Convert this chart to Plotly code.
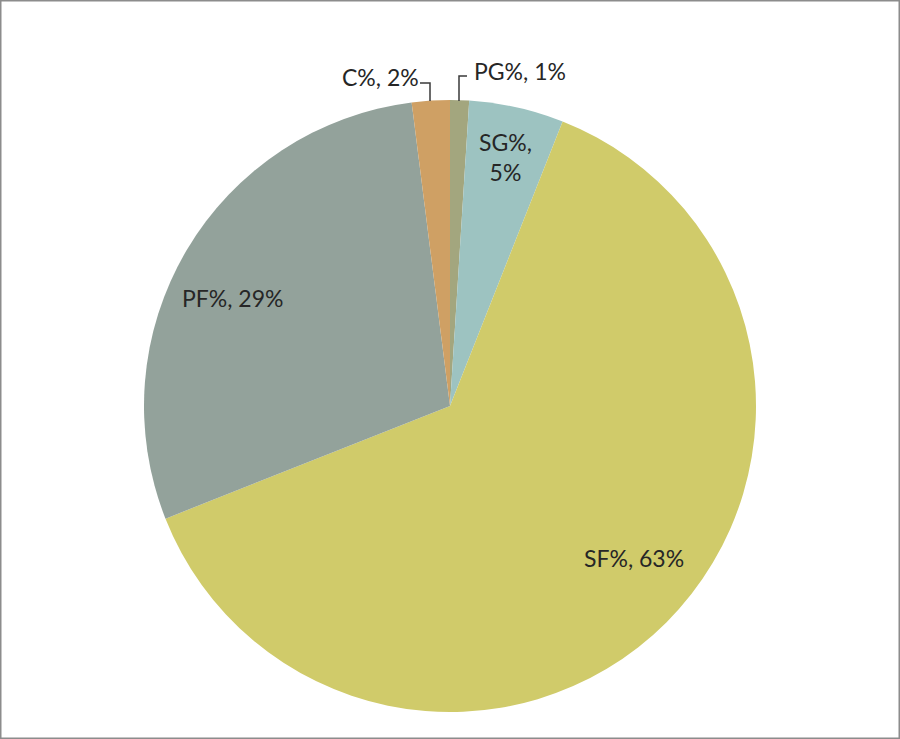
import plotly.graph_objects as go

labels = ["PG%", "SG%", "SF%", "PF%", "C%"]
values = [1, 5, 63, 29, 2]
label_texts = ["PG%, 1%", "SG%,<br>5%", "SF%, 63%", "PF%, 29%", "C%, 2%"]
colors = ["#A3A67E", "#9DC3C1", "#D0CB6A", "#93A29B", "#CFA064"]

W, H = 900, 739
# label centres in pixel space (layout, not data)
label_px = [(520, 71), (505, 157), (634, 558), (232, 298), (380, 77)]

fig = go.Figure(go.Pie(
    labels=labels,
    values=values,
    textinfo="none",
    sort=False,
    direction="clockwise",
    rotation=0,
    marker=dict(colors=colors, line=dict(width=0)),
    domain=dict(x=[0.16, 0.84], y=[0.0365, 0.8647]),
    showlegend=False,
    hoverinfo="label+value",
))

annotations = []
for t, (px, py) in zip(label_texts, label_px):
    annotations.append(dict(
        x=px / W, y=1 - py / H, xref="paper", yref="paper",
        text=t, showarrow=False, xanchor="center", yanchor="middle",
        font=dict(family="Lato", size=23, color="#262626"),
    ))

def P(px, py):
    return px / W, 1 - py / H

leader_paths = [
    [(420, 83), (430, 83), (430, 101)],   # C%
    [(459, 101), (459, 76), (467, 76)],   # PG%
]
shapes = [dict(type="rect", xref="paper", yref="paper", x0=0, y0=0, x1=1, y1=1,
               line=dict(color="#8c8c8c", width=3))]
for path in leader_paths:
    pts = [P(*p) for p in path]
    d = "M " + " L ".join(f"{x},{y}" for x, y in pts)
    shapes.append(dict(type="path", xref="paper", yref="paper", path=d,
                       line=dict(color="#3a3a3a", width=1.5)))

fig.update_layout(
    width=W, height=H,
    margin=dict(l=0, r=0, t=0, b=0),
    paper_bgcolor="white",
    annotations=annotations,
    shapes=shapes,
)

fig.write_html("out.html", config={"displayModeBar": False},
               post_script="document.body.style.margin='0';")
